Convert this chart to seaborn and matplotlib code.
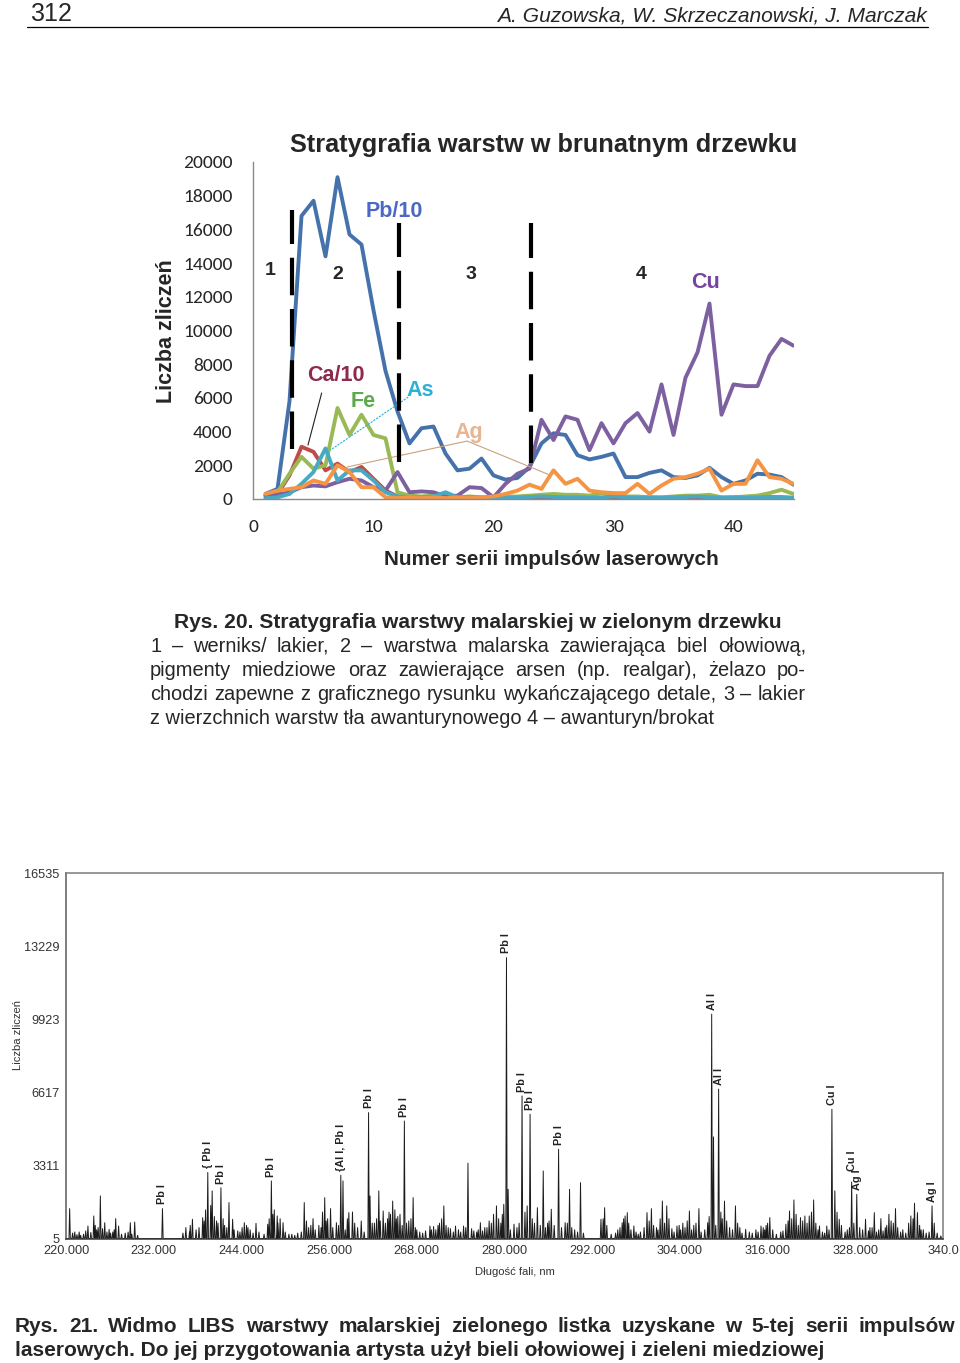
import numpy as np
import pandas as pd
import matplotlib
matplotlib.use("Agg")
import matplotlib.pyplot as plt
import seaborn as sns
from matplotlib import font_manager

# ------------------------------
# data: top chart (stratigraphy)
# ------------------------------
series_no = list(range(1, 46))
pb_10 = [300, 600, 5800, 16800, 17700, 14400, 19100, 15700, 15100, 11200,
         7600, 5200, 3300, 4200, 4300, 2700, 1700, 1800, 2400, 1400,
         1150, 1250, 1900, 3300, 3900, 3800, 2600, 2350, 2500, 2700,
         1300, 1300, 1550, 1700, 1300, 1250, 1400, 1850, 1300, 900,
         1100, 1500, 1450, 1300, 850]
ca_10 = [200, 300, 1400, 3100, 2800, 1700, 2100, 1600, 1900, 1200,
         500, 150, 80, 60, 50, 60, 50, 40, 50, 40,
         50, 60, 60, 80, 70, 60, 90, 60, 50, 60,
         50, 40, 50, 40, 50, 40, 50, 60, 40, 50,
         60, 90, 110, 100, 60]
fe = [100, 400, 1500, 2500, 1800, 2000, 5400, 3800, 5000, 3800,
      3600, 400, 200, 150, 200, 150, 100, 150, 100, 100,
      150, 150, 200, 250, 300, 250, 250, 200, 350, 300,
      150, 150, 100, 100, 150, 200, 200, 250, 100, 100,
      150, 200, 350, 550, 300]
cu = [200, 250, 400, 700, 800, 750, 1000, 1200, 1100, 700,
      500, 1600, 400, 450, 400, 150, 200, 700, 650, 100,
      900, 1500, 1800, 4700, 3500, 4900, 4700, 2900, 4500, 3300,
      4500, 5100, 4000, 6800, 3800, 7200, 8700, 11600, 5000, 6800,
      6700, 6700, 8500, 9500, 9100]
as_ = [50, 100, 300, 900, 1600, 3000, 1100, 1700, 1700, 1100,
       400, 150, 100, 100, 150, 400, 100, 100, 80, 60,
       80, 100, 120, 150, 120, 100, 100, 80, 100, 150,
       100, 80, 100, 80, 100, 120, 150, 100, 80, 100,
       80, 100, 120, 100, 80]
ag = [300, 500, 600, 700, 1100, 900, 2000, 1600, 700, 700,
      100, 50, 100, 50, 100, 50, 100, 50, 100, 150,
      300, 500, 850, 600, 1700, 900, 1200, 500, 400, 350,
      350, 900, 300, 800, 1200, 1300, 1500, 1800, 500, 900,
      900, 2300, 1300, 1200, 900]
elements = ["Pb/10", "Ca/10", "Fe", "Cu", "As", "Ag"]
line_colors = ["#4672AC", "#BE4B48", "#98B954", "#7D60A0", "#46AAC5", "#F59443"]
label_colors = ["#4B68C4", "#8E2A4C", "#5FA84E", "#7444A0", "#2BB1D8", "#E8B492"]
layer_bounds = [3.18, 12.15, 23.1]

# ------------------------------
# data: bottom chart (LIBS spectrum)
# ------------------------------
wl = [220.5, 221.2, 221.8, 222.4, 223.0, 223.8, 224.2, 224.7, 225.3, 225.9,
      226.4, 226.8, 227.2, 228.8, 229.4, 233.2, 236.4, 236.9, 237.3, 237.8,
      238.7, 239.1, 239.4, 239.8, 240.0, 240.6, 241.2, 241.7, 242.3, 242.8,
      243.5, 244.4, 244.9, 246.0, 247.6, 248.1, 248.5, 248.9, 249.3, 249.7,
      250.5, 251.7, 252.6, 253.2, 253.8, 254.6, 255.4, 255.8, 256.2, 257.0,
      257.6, 257.9, 258.7, 259.2, 260.4, 261.4, 261.6, 262.2, 262.8, 263.4,
      264.2, 264.7, 265.2, 265.7, 266.3, 266.9, 267.5, 268.4, 269.8, 270.6,
      271.1, 271.7, 272.3, 273.3, 274.4, 275.0, 276.2, 276.7, 277.3, 277.9,
      278.5, 278.9, 279.5, 279.9, 280.27, 280.5, 281.3, 282.4, 283.1, 283.5,
      284.5, 285.3, 285.9, 286.4, 287.4, 288.3, 288.9, 289.6, 290.4, 293.2,
      293.7, 295.5, 296.1, 296.5, 296.8, 297.7, 298.6, 299.5, 300.1, 300.8,
      301.6, 302.2, 302.9, 303.6, 304.4, 305.3, 305.9, 306.6, 307.8, 308.35,
      308.6, 309.3, 309.8, 310.1, 311.6, 312.2, 313.0, 314.4, 315.1, 315.8,
      316.3, 317.8, 318.5, 319.0, 319.6, 320.5, 321.1, 321.7, 322.3, 323.1,
      324.1, 324.8, 325.2, 325.8, 326.6, 327.5, 328.2, 329.4, 330.0, 330.6,
      331.5, 332.1, 332.6, 333.5, 334.5, 335.6, 336.1, 336.5, 337.3, 338.5,
      339.7]
counts = [1357, 300, 300, 200, 570, 1025, 400, 1930, 720, 420,
          300, 905, 570, 720, 750, 1357, 500, 300, 875, 400,
          950, 1300, 2990, 1500, 2160, 800, 2300, 600, 1630, 875,
          350, 720, 500, 690, 650, 2610, 1300, 1025, 900, 720,
          200, 250, 1630, 500, 905, 600, 1855, 900, 1357, 720,
          2865, 2610, 1176, 1206, 800, 5700, 1930, 700, 2160, 1250,
          1200, 1700, 900, 1100, 5320, 800, 1855, 300, 570, 400,
          700, 1480, 500, 570, 570, 3410, 300, 720, 500, 800,
          1100, 1480, 700, 1550, 12710, 2230, 650, 6450, 1480, 5625,
          1400, 3060, 700, 1330, 4040, 720, 2230, 400, 2530, 875,
          1400, 400, 720, 1025, 1176, 570, 300, 1176, 1357, 500,
          1700, 1480, 450, 570, 700, 1250, 600, 1357, 720, 10150,
          4600, 6760, 900, 1700, 1480, 500, 420, 400, 570, 600,
          950, 300, 650, 1250, 1750, 950, 1025, 1025, 1750, 570,
          570, 5850, 2160, 875, 300, 2560, 2000, 875, 500, 1176,
          905, 500, 1100, 1357, 400, 1025, 1600, 1176, 400, 1480,
          120]
# small background lines ("grass") between the main peaks
grass_wl = [220.9, 221.5, 222.0, 222.7, 223.4, 224.0, 224.4, 225.0, 225.6, 226.1,
            226.6, 227.6, 228.1, 228.5, 229.0, 229.8, 236.0, 237.0, 238.2, 238.9,
            240.3, 240.8, 241.5, 242.0, 243.0, 243.8, 244.1, 244.7, 245.2, 245.6,
            246.4, 247.1, 247.8, 248.3, 249.0, 250.0, 250.9, 251.3, 252.2, 252.9,
            253.5, 254.1, 254.9, 255.1, 255.6, 256.5, 257.3, 258.2, 258.5, 259.5,
            259.9, 260.8, 261.9, 262.5, 263.0, 263.7, 264.0, 264.4, 265.0, 265.4,
            266.0, 266.6, 267.2, 267.8, 268.0, 268.8, 269.2, 270.0, 270.3, 270.9,
            271.4, 272.0, 272.6, 273.0, 273.7, 274.0, 274.7, 275.5, 275.8, 276.4,
            277.0, 277.6, 278.2, 279.2, 279.7, 280.8, 281.7, 282.0, 282.8, 283.8,
            284.1, 284.9, 285.6, 286.1, 286.8, 287.8, 288.6, 289.2, 290.0, 290.8,
            293.5, 294.0, 294.6, 295.2, 295.8, 296.3, 297.0, 297.3, 298.0, 298.3,
            299.1, 299.8, 300.4, 301.0, 301.3, 301.9, 302.5, 303.2, 303.9, 304.1,
            304.7, 305.0, 305.6, 306.2, 306.9, 307.4, 308.0, 308.9, 309.6, 310.4,
            310.8, 311.2, 311.9, 312.5, 313.5, 313.9, 314.7, 315.4, 315.6, 316.0,
            316.7, 317.2, 318.1, 318.8, 319.3, 319.9, 320.2, 320.8, 321.4, 322.0,
            322.6, 322.9, 323.5, 323.8, 324.4, 325.5, 326.1, 326.9, 327.2, 327.8,
            328.6, 329.0, 329.8, 330.3, 330.9, 331.2, 331.8, 332.3, 332.9, 333.2,
            333.8, 334.2, 334.9, 335.3, 335.9, 336.8, 337.0, 337.7, 338.1, 338.8,
            339.2]
grass_counts = [250, 180, 150, 350, 280, 600, 500, 450, 300, 250,
                400, 200, 250, 300, 200, 150, 250, 600, 500, 800,
                1000, 700, 900, 500, 400, 300, 500, 600, 400, 250,
                300, 200, 900, 1100, 700, 300, 200, 150, 300, 800,
                600, 400, 500, 1200, 800, 500, 600, 400, 900, 700,
                500, 300, 700, 900, 800, 700, 900, 1100, 1300, 1000,
                600, 700, 900, 500, 400, 250, 350, 400, 550, 600,
                900, 600, 450, 300, 400, 300, 500, 450, 350, 400,
                350, 500, 700, 900, 1100, 400, 500, 700, 1200, 900,
                700, 600, 500, 800, 600, 500, 700, 500, 300, 250,
                900, 600, 200, 250, 500, 900, 700, 400, 300, 200,
                500, 800, 600, 400, 900, 700, 900, 300, 600, 400,
                500, 800, 400, 700, 300, 400, 1000, 600, 1200, 800,
                500, 400, 700, 250, 300, 250, 300, 500, 400, 700,
                400, 200, 350, 800, 900, 1100, 600, 800, 700, 1200,
                700, 400, 300, 250, 400, 1200, 600, 400, 500, 700,
                500, 400, 350, 500, 300, 400, 350, 600, 800, 700,
                500, 300, 250, 700, 900, 600, 400, 250, 300, 700,
                250]
peak_labels = [(233.2, 1357, "Pb I"), (239.4, 2990, "{ Pb I"), (241.2, 2300, "Pb I"),
               (248.1, 2610, "Pb I"), (257.6, 2865, "{Al I, Pb I"), (261.4, 5700, "Pb I"),
               (266.3, 5320, "Pb I"), (280.27, 12710, "Pb I"), (282.4, 6450, "Pb I"),
               (283.5, 5625, "Pb I"), (287.4, 4040, "Pb I"), (308.35, 10150, "Al I"),
               (309.3, 6760, "Al I"), (324.8, 5850, "Cu I"), (327.5, 2560, "Cu I"),
               (328.2, 2000, "Ag I"), (338.5, 1480, "Ag I")]
y_ticks_spec = [5, 3311, 6617, 9923, 13229, 16535]
x_ticks_spec = [220, 232, 244, 256, 268, 280, 292, 304, 316, 328, 340]
x_ticklabels_spec = ["220.000", "232.000", "244.000", "256.000", "268.000", "280.000",
                     "292.000", "304.000", "316.000", "328.000", "340.0"]

# ------------------------------
# fonts
# ------------------------------
sns.set_style("white")
available = {f.name for f in font_manager.fontManager.ttflist}


def pick(*fams):
    for f in fams:
        if f in available:
            return f
    return "DejaVu Sans"


ARIAL = pick("Liberation Sans", "Arimo", "DejaVu Sans")
NARROW = pick("Liberation Sans Narrow", ARIAL)
CALIBRI = pick("Carlito", "Lato", ARIAL)
plt.rcParams["font.family"] = [ARIAL, "DejaVu Sans"]

W, H = 960, 1363
fig = plt.figure(figsize=(W / 100, H / 100), dpi=100)
renderer = fig.canvas.get_renderer()


def px(x, y):
    return x / W, 1 - y / H


def put(x, y, s, **kw):
    kw.setdefault("va", "baseline")
    return fig.text(*px(x, y), s, **kw)


def fit(t, size_px):
    bb = t.get_window_extent(renderer)
    t.set_fontsize(t.get_fontsize() * size_px / max(bb.width, bb.height))
    return t


def natural_width(s, **kw):
    t = put(0, 0, s, ha="left", **kw)
    w = t.get_window_extent(renderer).width
    t.remove()
    return w


def justify(x0, x1, y, s, **kw):
    words = s.split(" ")
    ts = [put(x0, y, w, ha="left", **kw) for w in words]
    widths = [t.get_window_extent(renderer).width for t in ts]
    gap = (x1 - x0 - sum(widths)) / (len(words) - 1)
    x = x0
    for t, w in zip(ts, widths):
        t.set_position(px(x, y))
        x += w + gap


# ------------------------------
# page header
# ------------------------------
fit(put(30, 21, "312", family=[NARROW, "DejaVu Sans"], fontsize=18), 42)
fit(put(927, 21, "A. Guzowska, W. Skrzeczanowski, J. Marczak", ha="right",
        family=[NARROW, "DejaVu Sans"], style="italic", fontsize=18), 430)
fig.add_artist(plt.Line2D([27 / W, 928 / W], [1 - 27 / H] * 2, color="black", lw=0.9))

# ------------------------------
# top chart
# ------------------------------
ax = fig.add_axes([253.5 / W, 1 - 499 / H, 540 / W, 337 / H])
df = pd.DataFrame({
    "seria": series_no * 6,
    "liczba": pb_10 + ca_10 + fe + cu + as_ + ag,
    "pierwiastek": np.repeat(elements, len(series_no)),
})
sns.lineplot(data=df, x="seria", y="liczba", hue="pierwiastek", hue_order=elements,
             palette=dict(zip(elements, line_colors)), lw=2.8, legend=False, ax=ax,
             solid_joinstyle="round", solid_capstyle="round")
for xb, top, bot in zip(layer_bounds, [17150, 16380, 16380], [2970, 2210, 2140]):
    ax.plot([xb, xb], [bot, top], color="black", lw=3.0, ls=(0, (9, 3.3)),
            solid_capstyle="butt", zorder=5)
ax.set_xlim(0, 45)
ax.set_ylim(0, 20000)
ax.set_xticks([0, 10, 20, 30, 40])
ax.set_yticks(range(0, 20001, 2000))
ax.set_xlabel("")
ax.set_ylabel("")
for side in ["top", "right"]:
    ax.spines[side].set_visible(False)
for side in ["left", "bottom"]:
    ax.spines[side].set_color("#8a8a8a")
    ax.spines[side].set_linewidth(1.0)
ax.tick_params(axis="y", direction="out", length=5.2, width=1, color="#8a8a8a",
               pad=10.0, labelsize=14, labelcolor="#262626")
ax.tick_params(axis="x", direction="out", length=4.5, width=1, color="#8a8a8a",
               pad=10.0, labelsize=14, labelcolor="#262626")
for lab in ax.get_xticklabels() + ax.get_yticklabels():
    lab.set_family([CALIBRI, "DejaVu Sans"])

# layer numbers and element labels
for xx, yy, s in [(1.4, 13550, "1"), (7.0, 13350, "2"), (18.1, 13350, "3"), (32.3, 13350, "4")]:
    ax.text(xx, yy, s, ha="center", va="center", fontsize=14, fontweight="bold",
            family=[ARIAL, "DejaVu Sans"])
label_pos = [(11.75, 17060), (6.85, 7300), (9.1, 5810), (37.7, 12860), (13.9, 6410), (17.9, 3930)]
for (xx, yy), s, c in zip(label_pos, elements, label_colors):
    ax.text(xx, yy, s, ha="center", va="center", fontsize=15.5, fontweight="bold", color=c,
            family=[ARIAL, "DejaVu Sans"])
# connector lines
ax.plot([5.68, 4.54], [6290, 3200], color="#222222", lw=0.8)
ax.plot([12.9, 6.4], [6050, 2900], color="#2BB1D8", lw=0.8, ls=(0, (2, 1)))
ax.plot([7.8, 17.8, 24.6], [1900, 3440, 1450], color="#C9A27F", lw=0.8)

# title and axis titles
fit(put(543.5, 152, "Stratygrafia warstw w brunatnym drzewku", ha="center",
        family=[NARROW, "DejaVu Sans"], fontweight="bold", fontsize=18), 507)
fit(put(551.5, 565, "Numer serii impulsów laserowych", ha="center",
        family=[NARROW, "DejaVu Sans"], fontweight="bold", fontsize=16), 333)
fit(put(166, 331, "Liczba zliczeń", ha="center", va="center", rotation=90,
        family=[NARROW, "DejaVu Sans"], fontweight="bold", fontsize=16), 143)

# caption for Rys. 20
fit(put(477.5, 628, "Rys. 20. Stratygrafia warstwy malarskiej w zielonym drzewku",
        ha="center", fontweight="bold", fontsize=14), 609)
cap20 = ["1 – werniks/ lakier, 2 – warstwa malarska zawierająca biel ołowiową,",
         "pigmenty miedziowe oraz zawierające arsen (np. realgar), żelazo po-",
         "chodzi zapewne z graficznego rysunku wykańczającego detale, 3 – lakier",
         "z wierzchnich warstw tła awanturynowego 4 – awanturyn/brokat"]
bsize = 14 * 592 / natural_width(cap20[-1], fontsize=14)
bsize = min([bsize] + [14 * 655 / natural_width(s, fontsize=14) for s in cap20[:-1]])
for y, s in zip([652, 676, 700], cap20[:-1]):
    justify(150, 806, y, s, fontsize=bsize)
put(150, 724, cap20[-1], ha="left", fontsize=bsize)

# ------------------------------
# bottom chart: spectrum
# ------------------------------
ax2 = fig.add_axes([66 / W, 1 - 1238.5 / H, 877 / W, 365.5 / H])
half = 0.09
lines = sorted(zip(wl + grass_wl, counts + grass_counts))
tx, ty = [220.0], [5]
for w, c in lines:
    tx += [w - half, w, w + half]
    ty += [5, c, 5]
tx.append(340.0)
ty.append(5)
sns.lineplot(x=tx, y=ty, sort=False, estimator=None, color="#1c1c1c", lw=0.7, ax=ax2)
ax2.set_xlim(220, 340)
ax2.set_ylim(5, 16535)
ax2.set_xticks(x_ticks_spec)
ax2.set_xticklabels(x_ticklabels_spec)
ax2.set_yticks(y_ticks_spec)
ax2.set_yticklabels([str(v) for v in y_ticks_spec])
for side in ax2.spines:
    ax2.spines[side].set_color("#7a7a7a")
    ax2.spines[side].set_linewidth(1.1)
ax2.spines["left"].set_color("#5a5a5a")
ax2.spines["bottom"].set_color("#3a3a3a")
ax2.tick_params(axis="both", direction="out", length=3, width=0.8, color="#555555",
                labelsize=9, labelcolor="#333333", pad=1.5)
for lab in ax2.get_xticklabels() + ax2.get_yticklabels():
    lab.set_family([NARROW, "DejaVu Sans"])
    lab.set_fontsize(9.2)
for w, c, s in peak_labels:
    off = 8 if (s == "Cu I" and w > 326) else 3
    ax2.annotate(s, (w, c), xytext=(0, off), textcoords="offset points", rotation=90,
                 ha="center", va="bottom", fontsize=7.8, fontweight="bold", color="#222222")
ax2.set_xlabel("")
ax2.set_ylabel("")
fit(put(515, 1275, "Długość fali, nm", ha="center", color="#333333", fontsize=9), 80)
fit(put(18, 1035, "Liczba zliczeń", ha="center", va="center", rotation=90,
        color="#333333", fontsize=9), 70)

# caption for Rys. 21
last = fit(put(15, 1356, "laserowych. Do jej przygotowania artysta użył bieli ołowiowej i zieleni miedziowej",
               ha="left", fontweight="bold", fontsize=15), 813)
justify(15, 955, 1332, "Rys. 21. Widmo LIBS warstwy malarskiej zielonego listka uzyskane w 5-tej serii impulsów",
        fontweight="bold", fontsize=last.get_fontsize())

fig.savefig("out.png", dpi=100)
